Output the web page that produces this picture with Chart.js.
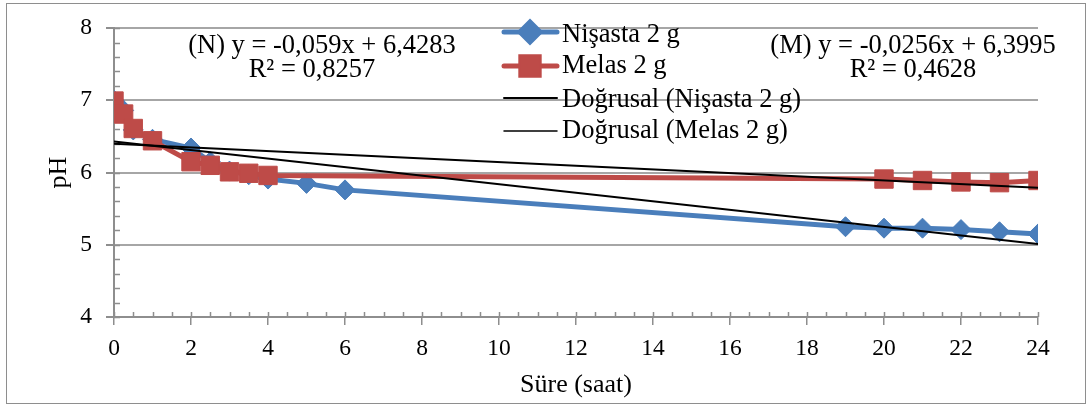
<!DOCTYPE html>
<html>
<head>
<meta charset="utf-8">
<script src="https://cdn.jsdelivr.net/npm/chart.js@4.4.1/dist/chart.umd.min.js"></script>
<style>
    html, body { margin: 0; padding: 0; background: #fff; }
    #wrap { width: 1091px; height: 408px; }
</style>
</head>
<body>
<div id="wrap"><canvas id="myChart" width="1091" height="408"></canvas></div>
<script>
// pH readings over time (hours)
const nisasta_hours = [0, 0.25, 0.5, 1, 2, 2.5, 3, 3.5, 4, 5, 6, 19, 20, 21, 22, 23, 24];
const nisasta_ph = [7.0, 6.86, 6.59, 6.46, 6.34, 6.15, 6.02, 5.97, 5.91, 5.85, 5.76, 5.25, 5.23, 5.23, 5.21, 5.18, 5.15];
const melas_hours = [0, 0.25, 0.5, 1, 2, 2.5, 3, 3.5, 4, 20, 21, 22, 23, 24];
const melas_ph = [6.99, 6.81, 6.61, 6.44, 6.15, 6.10, 6.01, 5.99, 5.96, 5.91, 5.89, 5.87, 5.86, 5.89];

// linear trend line ends (read at x = 0 and x = 24)
const trend_hours = [0, 24];
const trend_nisasta = [6.43, 5.01];
const trend_melas = [6.40, 5.79];

const series_labels = ['Nişasta 2 g', 'Melas 2 g', 'Doğrusal (Nişasta 2 g)', 'Doğrusal (Melas 2 g)'];
const eq_nisasta = ['(N) y = -0,059x + 6,4283', 'R² = 0,8257'];
const eq_melas = ['(M) y = -0,0256x + 6,3995', 'R² = 0,4628'];

const x_ticks = [0, 2, 4, 6, 8, 10, 12, 14, 16, 18, 20, 22, 24];
const y_ticks = [4, 5, 6, 7, 8];

const BLUE = '#4A7EBB';
const RED = '#BE4B48';
const GRAY = '#8e8e8e';
const SERIF = '"Liberation Serif", "Times New Roman", serif';

const to_points = (xs, ys) => xs.map((x, i) => ({ x: x, y: ys[i] }));

// border, minor ticks, legend and trend equations
const extras = {
    id: 'extras',
    beforeDraw(chart) {
        const c = chart.ctx;
        c.save();
        c.fillStyle = '#fff';
        c.fillRect(0, 0, chart.width, chart.height);
        c.strokeStyle = GRAY;
        c.lineWidth = 1;
        c.strokeRect(6.5, 3.5, 1079, 400);
        c.restore();
    },
    beforeDatasetsDraw(chart) {
        const c = chart.ctx;
        const xs = chart.scales.x, ys = chart.scales.y;
        const area = chart.chartArea;
        c.save();
        c.strokeStyle = GRAY;
        c.lineWidth = 1.5;
        c.beginPath();
        for (let v = 0; v <= 24.001; v += 0.5) {
            const px = Math.round(xs.getPixelForValue(v)) + 0.5;
            c.moveTo(px, area.bottom);
            c.lineTo(px, area.bottom - 5);
        }
        for (let v = 4; v <= 8.001; v += 0.2) {
            const py = Math.round(ys.getPixelForValue(v)) + 0.5;
            c.moveTo(area.left, py);
            c.lineTo(area.left + 6, py);
        }
        c.stroke();
        c.restore();
    },
    afterDraw(chart) {
        const c = chart.ctx;
        c.save();
        c.font = '26.5px ' + SERIF;
        c.fillStyle = '#000';
        c.textBaseline = 'alphabetic';

        // legend
        const rows = [
            { y: 32, color: BLUE, width: 5, marker: 'rectRot', radius: 10 },
            { y: 66, color: RED, width: 5, marker: 'rect', radius: 13 },
            { y: 98, color: '#000', width: 2, marker: null },
            { y: 131, color: '#000', width: 1.5, marker: null }
        ];
        const base = [42, 73, 107, 138];
        rows.forEach(function(r, i) {
            c.strokeStyle = r.color;
            c.lineWidth = r.width;
            c.lineCap = 'round';
            c.beginPath();
            c.moveTo(504, r.y);
            c.lineTo(557, r.y);
            c.stroke();
            if (r.marker) {
                c.fillStyle = r.color;
                Chart.helpers.drawPoint(c, {
                    pointStyle: r.marker, radius: r.radius, rotation: 0, borderWidth: 1
                }, 530, r.y);
                c.fill();
            }
            c.fillStyle = '#000';
            c.textAlign = 'left';
            c.fillText(series_labels[i], 562, base[i]);
        });

        // trend equations
        c.textAlign = 'center';
        c.fillText(eq_nisasta[0], 322, 53);
        c.fillText(eq_nisasta[1], 312, 77);
        c.fillText(eq_melas[0], 913, 53);
        c.fillText(eq_melas[1], 913, 77);
        c.restore();
    }
};

var ctx = document.getElementById('myChart').getContext('2d');
var chart = new Chart(ctx, {
    type: 'line',
    data: {
        datasets: [
            {
                label: series_labels[0],
                data: to_points(nisasta_hours, nisasta_ph),
                borderColor: BLUE,
                backgroundColor: BLUE,
                borderWidth: 5,
                pointStyle: 'rectRot',
                pointRadius: 10,
                pointBorderWidth: 1,
                order: 3
            },
            {
                label: series_labels[1],
                data: to_points(melas_hours, melas_ph),
                borderColor: RED,
                backgroundColor: RED,
                borderWidth: 5,
                pointStyle: 'rect',
                pointRadius: 13,
                pointBorderWidth: 1,
                order: 2
            },
            {
                label: series_labels[2],
                data: to_points(trend_hours, trend_nisasta),
                borderColor: '#000',
                borderWidth: 2,
                pointRadius: 0,
                order: 1
            },
            {
                label: series_labels[3],
                data: to_points(trend_hours, trend_melas),
                borderColor: '#000',
                borderWidth: 2,
                pointRadius: 0,
                order: 0
            }
        ]
    },
    options: {
        responsive: false,
        animation: false,
        events: [],
        layout: { padding: { top: 24, right: 53, bottom: 0, left: 0 } },
        plugins: {
            legend: { display: false },
            tooltip: { enabled: false }
        },
        scales: {
            x: {
                type: 'linear',
                min: 0,
                max: 24,
                afterBuildTicks: s => { s.ticks = x_ticks.map(v => ({ value: v })); },
                afterFit: s => { s.height = 91; },
                grid: {
                    drawOnChartArea: false,
                    drawTicks: true,
                    tickLength: 8,
                    tickColor: GRAY,
                    lineWidth: 1.5
                },
                border: { display: true, color: GRAY, width: 2 },
                ticks: {
                    color: '#000',
                    padding: 10,
                    maxRotation: 0,
                    font: { family: SERIF, size: 23.5 }
                },
                title: {
                    display: true,
                    text: 'Süre (saat)',
                    color: '#000',
                    font: { family: SERIF, size: 26 },
                    padding: { top: 0, bottom: 7 }
                }
            },
            y: {
                min: 4,
                max: 8,
                afterBuildTicks: s => { s.ticks = y_ticks.map(v => ({ value: v })); },
                afterFit: s => { s.width = 114; },
                grid: {
                    color: '#a6a6a6',
                    lineWidth: 2,
                    drawTicks: true,
                    tickLength: 8,
                    tickColor: GRAY
                },
                border: { display: true, color: GRAY, width: 2 },
                ticks: {
                    color: '#000',
                    padding: 14,
                    font: { family: SERIF, size: 23.5 }
                },
                title: {
                    display: true,
                    text: 'pH',
                    color: '#000',
                    font: { family: SERIF, size: 26 },
                    padding: { top: 44, bottom: 0 }
                }
            }
        }
    },
    plugins: [extras]
});
</script>
</body>
</html>
